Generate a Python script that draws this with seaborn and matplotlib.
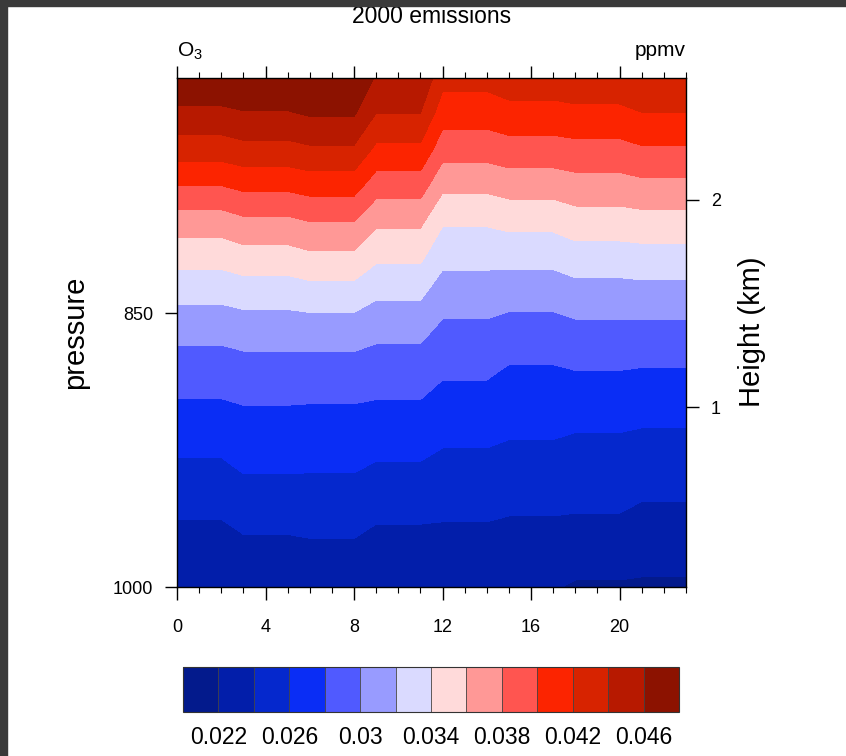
#!/usr/bin/env python3
"""
Diurnal O3 cross-section (pressure vs hour) for the 2000 emissions run.
"""

import matplotlib
matplotlib.use("Agg")
import matplotlib.pyplot as plt
import matplotlib.colors as mcolors
import matplotlib.colorbar as mcolorbar
from matplotlib.patches import Rectangle
from matplotlib.ticker import MultipleLocator
import seaborn as sns
import numpy as np

# pressure levels (hPa), bottom to top
pressure = [1000, 980, 960, 940, 920, 900, 880, 860, 840, 820, 800, 780, 760, 740, 721]

# O3 (ppbv) per 3-hour block, values at each pressure level above
o3_00_02h = [22.02, 23.06, 24.16, 25.34, 26.54, 27.79, 29.08, 30.54, 32.48, 34.63, 36.96, 39.99, 42.99, 45.56, 47.75]
o3_03_05h = [22.25, 23.46, 24.68, 25.89, 26.96, 28.02, 29.29, 30.81, 32.78, 35.05, 37.52, 40.47, 43.39, 45.87, 48.11]
o3_06_08h = [22.51, 23.63, 24.74, 25.86, 26.92, 27.97, 29.28, 30.87, 33.02, 35.46, 37.96, 40.82, 43.72, 46.25, 48.62]
o3_09_11h = [22.10, 23.16, 24.32, 25.48, 26.65, 27.83, 29.07, 30.46, 32.25, 34.28, 36.36, 38.93, 41.57, 44.03, 45.70]
o3_12_14h = [22.24, 23.23, 24.21, 25.19, 26.19, 27.26, 28.36, 29.52, 30.91, 32.50, 34.21, 36.47, 38.86, 40.94, 42.66]
o3_15_17h = [22.15, 23.10, 24.05, 25.01, 25.96, 26.92, 27.88, 29.17, 30.69, 32.56, 34.53, 36.85, 39.20, 41.31, 43.20]
o3_18_20h = [21.79, 22.88, 23.98, 24.86, 25.74, 26.86, 28.08, 29.44, 31.08, 33.01, 35.05, 37.20, 39.39, 41.50, 43.49]
o3_21_23h = [21.73, 22.70, 23.67, 24.63, 25.59, 26.72, 27.98, 29.43, 31.18, 33.13, 35.20, 37.50, 39.78, 41.98, 43.90]

hours = list(range(24))
contour_levels = [0.022, 0.024, 0.026, 0.028, 0.030, 0.032, 0.034,
                  0.036, 0.038, 0.040, 0.042, 0.044, 0.046]
cbar_labels = [0.022, 0.026, 0.030, 0.034, 0.038, 0.042, 0.046]
fill_colors = ["#031A8C", "#021EAA", "#0528CD", "#0A2DF5", "#505AFF", "#989BFF",
               "#DADAFF", "#FFDADA", "#FF9896", "#FF5550", "#FC2400", "#D72300",
               "#B71900", "#8C1200"]

sns.set_theme(style="white", rc={"text.color": "black", "axes.labelcolor": "black",
                                 "xtick.color": "black", "ytick.color": "black"})
plt.rcParams['font.family'] = ['Liberation Sans', 'DejaVu Sans']
plt.rcParams['mathtext.fontset'] = 'custom'
plt.rcParams['mathtext.rm'] = 'Liberation Sans'

# build the (level x hour) field, each 3-hour block repeated per hour
blocks = np.column_stack([o3_00_02h, o3_03_05h, o3_06_08h, o3_09_11h,
                          o3_12_14h, o3_15_17h, o3_18_20h, o3_21_23h]) / 1000.0
o3 = np.repeat(blocks, 3, axis=1)

fig = plt.figure(figsize=(8.46, 7.56), dpi=100)
W, H = 846.0, 756.0

# screenshot frame on top/left
fig.patches.append(Rectangle((0, 1 - 6 / H), 1, 6 / H, transform=fig.transFigure,
                             color="#3a3a3a", zorder=0))
fig.patches.append(Rectangle((0, 0), 7 / W, 1, transform=fig.transFigure,
                             color="#3a3a3a", zorder=0))

ax = fig.add_axes([177 / W, 1 - 587 / H, 509 / W, 509 / H])

levels = [0.0] + contour_levels + [1.0]
ax.contourf(hours, pressure, o3, levels=levels, colors=fill_colors)

ax.set_xlim(0, 23)
ax.set_ylim(1000, 721)
ax.set_xticks([0, 4, 8, 12, 16, 20])
ax.xaxis.set_minor_locator(MultipleLocator(1))
ax.set_yticks([850, 1000])
ax.tick_params(axis='x', which='major', direction='out', length=9, width=1.0,
               top=True, bottom=True, labelsize=13, pad=14, color='black', labelcolor='black')
ax.tick_params(axis='x', which='minor', direction='out', length=4.5, width=0.8,
               top=True, bottom=True, color='black')
ax.tick_params(axis='y', which='major', direction='out', length=9, width=1.0,
               left=True, right=False, labelsize=13, pad=8, color='black', labelcolor='black')
for s in ax.spines.values():
    s.set_color('black')
    s.set_linewidth(1.0)


def p2z(p):
    return 1 + (901.5 - np.asarray(p, dtype=float)) / 113.9


def z2p(z):
    return 901.5 - (np.asarray(z, dtype=float) - 1) * 113.9


sec = ax.secondary_yaxis('right', functions=(p2z, z2p))
sec.set_yticks([1, 2])
sec.tick_params(direction='out', length=9, width=1.0, labelsize=13, pad=9,
                color='black', labelcolor='black')
sec.spines['right'].set_visible(False)

fig.text(75 / W, 1 - 332 / H, "pressure", rotation=90, ha='center', va='center',
         fontsize=21, color='black')
fig.text(752 / W, 1 - 332 / H, "Height (km)", rotation=90, ha='center', va='center',
         fontsize=21, color='black')

ax.text(0.5, (587 - 23) / 509, "2000 emissions", transform=ax.transAxes,
        ha='center', va='baseline', fontsize=16.5, color='black')
ax.text(0.0, (587 - 56) / 509, r"O$_\mathrm{3}$", transform=ax.transAxes,
        ha='left', va='baseline', fontsize=15, color='black')
ax.text(1.0, (587 - 56) / 509, "ppmv", transform=ax.transAxes,
        ha='right', va='baseline', fontsize=15, color='black')

# label bar
cax = fig.add_axes([183 / W, 1 - 712 / H, 496 / W, 45 / H])
edges = [0.020] + contour_levels + [0.048]
cmap = mcolors.ListedColormap(fill_colors)
norm = mcolors.BoundaryNorm(edges, ncolors=len(fill_colors))
cb = mcolorbar.ColorbarBase(cax, cmap=cmap, norm=norm, boundaries=edges,
                            spacing='uniform', orientation='horizontal', drawedges=True)
cb.dividers.set_color('#444444')
cb.dividers.set_linewidth(0.6)
cb.outline.set_edgecolor('#333333')
cb.outline.set_linewidth(0.8)
cb.set_ticks(cbar_labels)
cb.set_ticklabels([f"{v:g}" for v in cbar_labels])
cb.minorticks_off()
cax.tick_params(which='both', length=0, labelsize=16.5, pad=10, labelcolor='black')

fig.savefig("out.png", dpi=100)
